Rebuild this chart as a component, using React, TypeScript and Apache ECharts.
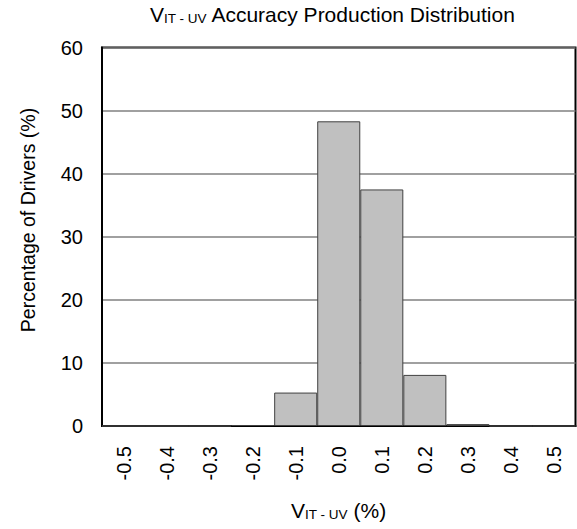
import React, { useEffect, useRef } from "react";
import * as echarts from "echarts";

const categories = ["-0.5", "-0.4", "-0.3", "-0.2", "-0.1", "0.0", "0.1", "0.2", "0.3", "0.4", "0.5"];
const percentages = [0, 0, 0, 0.15, 5.3, 48.3, 37.5, 8.1, 0.3, 0, 0];
const yTicks = { min: 0, max: 60, interval: 10 };

const FONT = "'Liberation Sans', Arial, Helvetica, sans-serif";

export default function App() {
  const ref = useRef<HTMLDivElement>(null);
  useEffect(() => {
    if (!ref.current) return;
    const chart = echarts.init(ref.current, null, { renderer: "svg" });
    const subRich = {
      sub: { fontSize: 13.5, fontFamily: FONT, verticalAlign: "bottom", padding: [7, 0, 0, 0], fill: "#000" },
    };
    chart.setOption({
      animation: false,
      backgroundColor: "#ffffff",
      grid: {
        left: 102,
        right: 1.5,
        top: 47.5,
        bottom: 103,
        show: true,
        borderColor: "#000000",
        borderWidth: 2,
        containLabel: false,
      },
      graphic: [
        {
          type: "text",
          left: 150,
          top: 4,
          style: {
            text: "V{sub|IT - UV} Accuracy Production Distribution",
            font: `21px ${FONT}`,
            fill: "#000",
            rich: subRich,
          },
        },
        {
          type: "text",
          x: 28,
          y: 220,
          rotation: Math.PI / 2,
          style: {
            text: "Percentage of Drivers (%)",
            font: `19.5px ${FONT}`,
            fill: "#000",
            align: "center",
            verticalAlign: "middle",
          },
        },
        {
          type: "text",
          left: 291,
          top: 500,
          style: {
            text: "V{sub|IT - UV} (%)",
            font: `21px ${FONT}`,
            fill: "#000",
            rich: subRich,
          },
        },
      ],
      xAxis: {
        type: "category",
        data: categories,
        axisLine: { show: true, lineStyle: { color: "#000", width: 2 } },
        axisTick: { show: false },
        axisLabel: {
          rotate: 90,
          margin: 20,
          fontSize: 20,
          fontFamily: FONT,
          color: "#000",
          interval: 0,
        },
        splitLine: { show: false },
      },
      yAxis: {
        type: "value",
        min: yTicks.min,
        max: yTicks.max,
        interval: yTicks.interval,
        axisLine: { show: true, lineStyle: { color: "#000", width: 2 } },
        axisTick: { show: false },
        axisLabel: { margin: 19, fontSize: 20, fontFamily: FONT, color: "#000" },
        splitLine: { show: true, lineStyle: { color: "#808080", width: 1.5 } },
      },
      series: [
        {
          type: "bar",
          data: percentages,
          barCategoryGap: "0%",
          itemStyle: { color: "#c0c0c0", borderColor: "#404040", borderWidth: 1 },
        },
      ],
    });
    return () => chart.dispose();
  }, []);
  return <div ref={ref} style={{ width: 577, height: 529, position: "absolute", left: 0, top: 0 }} />;
}
